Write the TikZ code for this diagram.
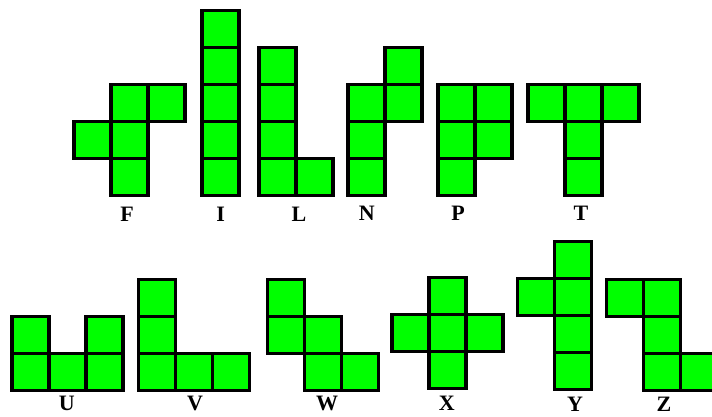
\documentclass[tikz,border=0pt]{standalone}
\usepackage{fontspec}
\setmainfont{Liberation Serif}
\usetikzlibrary{calc}
\definecolor{pentgreen}{RGB}{0,255,0}
\tikzset{
  sq/.style={draw=black, fill=pentgreen, line width=3.6pt},
  lbl/.style={anchor=base, inner sep=0, font=\fontsize{22}{22}\selectfont\bfseries}
}
% #1,#2 = top left corner of the piece, #3 = list of column/row cells
\newcommand{\piece}[3]{
\foreach \c/\r in {#3}
  \path[sq] (#1+37*\c, #2+37*\r) rectangle ++(37,37);
}

\begin{document}
\begin{tikzpicture}[x=1pt, y=-1pt]
\path[use as bounding box, fill=white] (0,0) rectangle (712,416);
% top row
\piece{74.2}{84.5}{1/0, 2/0, 0/1, 1/1, 1/2}
\piece{202.2}{10.5}{0/0, 0/1, 0/2, 0/3, 0/4}
\piece{258.8}{47.5}{0/0, 0/1, 0/2, 0/3, 1/3}
\piece{348.2}{47.5}{1/0, 0/1, 1/1, 0/2, 0/3}
\piece{438.2}{84.5}{0/0, 1/0, 0/1, 1/1, 0/2}
\piece{528.2}{84.5}{0/0, 1/0, 2/0, 1/1, 1/2}
\path (127,221.5) node[lbl] (f) {F};
\path (220.7,221.5) node[lbl] (i) {I};
\path (299,221.5) node[lbl] (l) {L};
\path (366.7,220) node[lbl] (n) {N};
\path (458,220) node[lbl] (p) {P};
\path (581,220) node[lbl] (t) {T};
% bottom row
\piece{12.2}{316.5}{0/0, 2/0, 0/1, 1/1, 2/1}
\piece{138.5}{279.5}{0/0, 0/1, 0/2, 1/2, 2/2}
\piece{267.5}{279.5}{0/0, 0/1, 1/1, 1/2, 2/2}
\piece{392.2}{277.5}{1/0, 0/1, 1/1, 2/1, 1/2}
\piece{517.5}{241.5}{1/0, 0/1, 1/1, 1/2, 1/3}
\piece{606.5}{279.5}{0/0, 1/0, 1/1, 1/2, 2/2}
\path (66.7,410.5) node[lbl] (u) {U};
\path (195,410.5) node[lbl] (v) {V};
\path (327,410) node[lbl] (w) {W};
\path (446.7,410.5) node[lbl] (x) {X};
\path (575,411) node[lbl] (y) {Y};
\path (664,411) node[lbl] (z) {Z};
\end{tikzpicture}
\end{document}
